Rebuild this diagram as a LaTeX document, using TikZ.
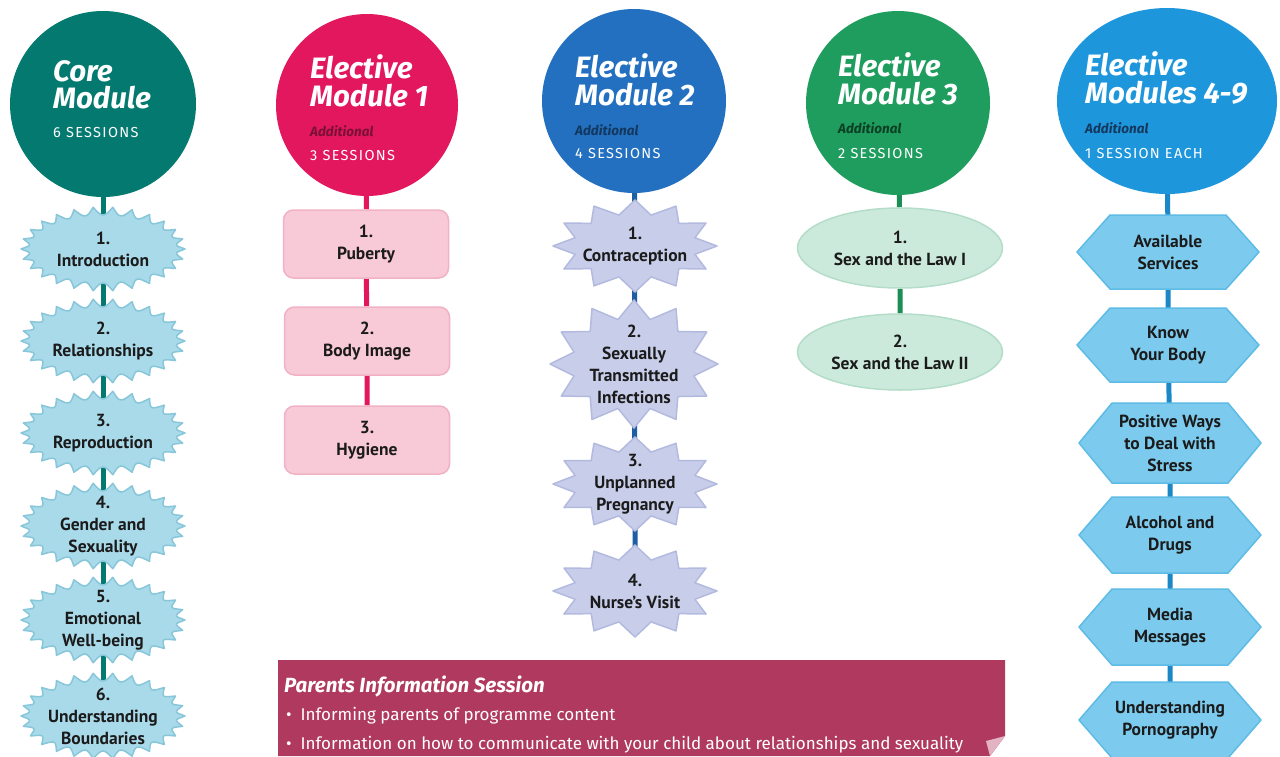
\documentclass[tikz,border=0pt]{standalone}
\usepackage{fontspec}
\setmainfont{PT Sans}
\newfontfamily\headfont{Fira Sans}
\newfontfamily\capsfont[LetterSpace=9]{Fira Sans}
\usetikzlibrary{shapes.geometric}
\definecolor{coreC}{HTML}{03796F}
\definecolor{emA}{HTML}{E2175E}
\definecolor{emB}{HTML}{2370C0}
\definecolor{emC}{HTML}{1F9D5E}
\definecolor{emD}{HTML}{1E96DC}
\definecolor{addA}{HTML}{7A1036}
\definecolor{addB}{HTML}{13385F}
\definecolor{addC}{HTML}{0B3F24}
\definecolor{addD}{HTML}{15385E}
\definecolor{burstF}{HTML}{A9DAEA}
\definecolor{burstD}{HTML}{88C6DA}
\definecolor{boxF}{HTML}{F8C9D6}
\definecolor{boxD}{HTML}{F1B2C5}
\definecolor{starF}{HTML}{C8CDEA}
\definecolor{starD}{HTML}{B3BADF}
\definecolor{ellF}{HTML}{CCEADB}
\definecolor{ellD}{HTML}{B3DDC9}
\definecolor{hexF}{HTML}{7CCBEE}
\definecolor{hexD}{HTML}{5DBBE6}
\definecolor{parF}{HTML}{B03A5F}
\definecolor{foldC}{HTML}{E3B3C3}
\definecolor{labT}{HTML}{1B1B1B}
\pgfdeclarelayer{paper}
\pgfdeclarelayer{conn}
\pgfdeclarelayer{shp}
\pgfsetlayers{paper,conn,shp,main}
\tikzset{
  modcircle/.style={circle, inner sep=0pt, minimum size=#1},
  ttl/.style={anchor=base west, inner sep=0pt, text=white, font=\headfont\bfseries\itshape\fontsize{29.5}{29.5}\selectfont},
  sess/.style={anchor=base west, inner sep=0pt, text=white, font=\capsfont\fontsize{14.5}{14.5}\selectfont},
  addl/.style={anchor=base west, inner sep=0pt, font=\headfont\bfseries\itshape\fontsize{13.5}{13.5}\selectfont},
  lbl/.style={inner sep=0pt, align=center, text=labT, font=\bfseries\fontsize{17.5}{22}\selectfont},
  link/.style={line width=5pt},
  pinkbox/.style={lbl, rectangle, rounded corners=10pt, fill=boxF, draw=boxD, line width=1.5pt, minimum width=165pt, minimum height=68pt},
  greenell/.style={lbl, ellipse, fill=ellF, draw=ellD, line width=1.5pt, minimum width=205pt, minimum height=#1},
  burstshape/.style={fill=burstF, draw=burstD, line width=1.5pt, line join=round},
  starshape/.style={fill=starF, draw=starD, line width=1.5pt, line join=round},
  hexshape/.style={fill=hexF, draw=hexD, line width=1.5pt, line join=round},
  ptxt/.style={anchor=base west, inner sep=0pt, text=white}
}
\newcommand\drawburst[3]{%
  \begin{scope}[shift={(#1.center)}]
    \filldraw[burstshape] plot[domain=0:360, samples=209, variable=\t]
      ({(#2-8*abs(sin(13*\t)))*cos(\t)},{(#3-8*abs(sin(13*\t)))*sin(\t)}) -- cycle;
  \end{scope}}
\newcommand\drawstar[5]{%
  \begin{scope}[shift={(#1.center)}]
    \filldraw[starshape] (#2,0) \foreach \i in {1,...,23}{
      -- ({ifthenelse(mod(\i,2)==0,#2,#4)*cos(\i*15)},{ifthenelse(mod(\i,2)==0,#3,#5)*sin(\i*15)}) } -- cycle;
  \end{scope}}
\newcommand\drawhex[3]{%
  \begin{scope}[shift={(#1.center)}]
    \filldraw[hexshape] (-#2,0) -- (-58,-#3) -- (58,-#3) -- (#2,0) -- (58,#3) -- (-58,#3) -- cycle;
  \end{scope}}
\begin{document}
\begin{tikzpicture}[x=1pt,y=-1pt]
\useasboundingbox (0,0) rectangle (1280,756);
\begin{pgfonlayer}{paper}
  \fill[white] (0,0) rectangle (1280,756);
\end{pgfonlayer}

% ---------- module circles ----------
\node[modcircle=186pt, fill=coreC] (core) at (103,104) {};
\node[modcircle=182pt, fill=emA] (ema) at (367,105) {};
\node[modcircle=184pt, fill=emB] (emb) at (634,101) {};
\node[modcircle=184pt, fill=emC] (emc) at (898,103) {};
\node[ellipse, inner sep=0pt, minimum width=220pt, minimum height=186pt, fill=emD] (emd) at (1167,101) {};

\node[ttl] (coreT1) at (53,81) {Core};
\node[ttl] (coreT2) at (53,108) {Module};
\node[sess] (coreS) at (53,137) {6 SESSIONS};

\node[ttl] (emaT1) at (310,78) {Elective};
\node[ttl] (emaT2) at (310,106) {Module 1};
\node[addl, text=addA] (emaA) at (310,136) {Additional};
\node[sess] (emaS) at (310,160) {3 SESSIONS};

\node[ttl] (embT1) at (575,77) {Elective};
\node[ttl] (embT2) at (575,105) {Module 2};
\node[addl, text=addB] (embA) at (575,135) {Additional};
\node[sess] (embS) at (575,158) {4 SESSIONS};

\node[ttl] (emcT1) at (838,76) {Elective};
\node[ttl] (emcT2) at (838,104) {Module 3};
\node[addl, text=addC] (emcA) at (838,133) {Additional};
\node[sess] (emcS) at (838,158) {2 SESSIONS};

\node[ttl] (emdT1) at (1085,75) {Elective};
\node[ttl] (emdT2) at (1085,103) {Modules 4-9};
\node[addl, text=addD] (emdA) at (1085,133) {Additional};
\node[sess] (emdS) at (1085,158) {1 SESSION EACH};

% ---------- core sessions ----------
\node[lbl] (c1) at (103,249) {1.\\Introduction};
\node[lbl] (c2) at (103,341) {2.\\Relationships};
\node[lbl] (c3) at (103,433) {3.\\Reproduction};
\node[lbl] (c4) at (103,526) {4.\\Gender and\\Sexuality};
\node[lbl] (c5) at (103,620) {5.\\Emotional\\Well-being};
\node[lbl] (c6) at (103,716) {6.\\Understanding\\Boundaries};

% ---------- elective 1 ----------
\node[pinkbox] (a1) at (366,244) {1.\\Puberty};
\node[pinkbox] (a2) at (367,341) {2.\\Body Image};
\node[pinkbox] (a3) at (367,440) {3.\\Hygiene};

% ---------- elective 2 ----------
\node[lbl] (b1) at (635,246) {1.\\Contraception};
\node[lbl] (b2) at (634,364) {2.\\Sexually\\Transmitted\\Infections};
\node[lbl] (b3) at (635,484) {3.\\Unplanned\\Pregnancy};
\node[lbl] (b4) at (635,591) {4.\\Nurse's Visit};

% ---------- elective 3 ----------
\node[greenell=80pt] (e1) at (900,248) {1.\\Sex and the Law I};
\node[greenell=76pt] (e2) at (900,352) {2.\\Sex and the Law II};

% ---------- elective 4-9 ----------
\node[lbl] (h1) at (1168,252) {Available\\Services};
\node[lbl] (h2) at (1168,345) {Know\\Your Body};
\node[lbl] (h3) at (1170,443) {Positive Ways\\to Deal with\\Stress};
\node[lbl] (h4) at (1170,535) {Alcohol and\\Drugs};
\node[lbl] (h5) at (1170,627) {Media\\Messages};
\node[lbl] (h6) at (1170,720) {Understanding\\Pornography};

% ---------- shapes behind labels ----------
\begin{pgfonlayer}{shp}
  \drawburst{c1}{82}{42}
  \drawburst{c2}{82}{42}
  \drawburst{c3}{82}{42}
  \drawburst{c4}{82}{43}
  \drawburst{c5}{82}{43}
  \drawburst{c6}{82}{43}
  \drawstar{b1}{82}{46}{62}{32}
  \drawstar{b2}{84}{64}{62}{46}
  \drawstar{b3}{82}{47}{62}{33}
  \drawstar{b4}{82}{46}{62}{32}
  \drawhex{h1}{91}{37}
  \drawhex{h2}{91}{37}
  \drawhex{h3}{91}{40}
  \drawhex{h4}{91}{38}
  \drawhex{h5}{91}{38}
  \drawhex{h6}{91}{38}
\end{pgfonlayer}

% ---------- connectors ----------
\begin{pgfonlayer}{conn}
  \draw[link, coreC] (core) -- (c1) -- (c2) -- (c3) -- (c4) -- (c5) -- (c6);
  \draw[link, emA] (ema) -- (a1) -- (a2) -- (a3);
  \draw[link, emB!85!black] (emb) -- (b1) -- (b2) -- (b3) -- (b4);
  \draw[link, emC!90!black] (emc) -- (e1) -- (e2);
  \draw[link, emD!90!black] (emd) -- (h1) -- (h2) -- (h3) -- (h4) -- (h5) -- (h6);
\end{pgfonlayer}

% ---------- parents box ----------
\fill[parF] (278,660) -- (1005,660) -- (1005,736) -- (990,756) -- (278,756) -- cycle;
\fill[foldC] (990,756) -- (1005,736) -- (986,741) -- cycle;
\node[ptxt, font=\headfont\bfseries\itshape\fontsize{20.5}{20.5}\selectfont] (ptitle) at (284,692) {Parents Information Session};
\node[ptxt, font=\headfont\fontsize{17}{17}\selectfont] (pb1) at (286,720) {\textbullet\ \ Informing parents of programme content};
\node[ptxt, font=\headfont\fontsize{17}{17}\selectfont] (pb2) at (286,749) {\textbullet\ \ Information on how to communicate with your child about relationships and sexuality};
\end{tikzpicture}
\end{document}
